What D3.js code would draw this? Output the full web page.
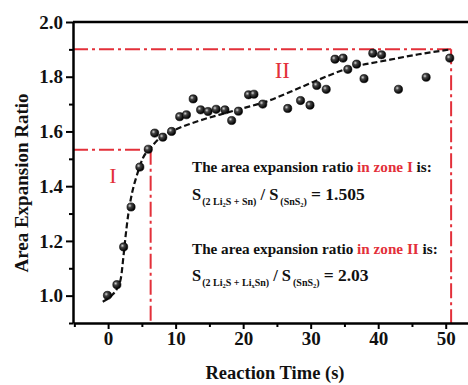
<!DOCTYPE html>
<html>
<head>
<meta charset="utf-8">
<script src="https://cdn.jsdelivr.net/npm/d3@7"></script>
<style>
  body { margin: 0; background: #fff; }
  svg { display: block; }
  text { font-family: "Liberation Serif", "Times New Roman", serif; }
</style>
</head>
<body>
<div id="chart"></div>
<script>
// measured points: reaction time (s) and area expansion ratio
const timeData = [-0.1, 1.3, 2.3, 3.4, 4.7, 5.95, 6.9, 8.1, 9.4, 10.6, 11.6, 12.6, 13.7, 14.8, 16.0, 17.3,
  18.3, 19.3, 20.8, 21.6, 22.9, 26.6, 28.5, 29.9, 30.9, 32.3, 33.6, 34.8, 35.5, 36.8, 37.9, 39.2, 40.5, 43.0, 47.1, 50.6];
const ratioData = [1.001, 1.04, 1.178, 1.324, 1.47, 1.535, 1.594, 1.579, 1.600, 1.654, 1.661, 1.719, 1.679, 1.673, 1.681, 1.679,
  1.640, 1.674, 1.734, 1.736, 1.700, 1.684, 1.713, 1.696, 1.768, 1.754, 1.864, 1.868, 1.827, 1.846, 1.793, 1.886, 1.880, 1.754, 1.798, 1.868];

// fitted curve (dashed)
const fitTime = [-0.8, 0.5, 1.3, 1.9, 2.3, 2.6, 3.0, 3.5, 4.2, 5.2, 6.3, 7.6, 10, 13.6, 17.5, 20, 23.4, 27, 30.3, 35.5, 41.7, 46, 50.8];
const fitRatio = [0.978, 1.0, 1.025, 1.065, 1.15, 1.22, 1.30, 1.37, 1.435, 1.505, 1.54, 1.575, 1.607, 1.64, 1.668, 1.685, 1.709, 1.745, 1.78, 1.83, 1.862, 1.882, 1.90];

// zone boundaries
const zoneTime = [6.3, 50.8];
const zoneRatio = [1.533, 1.90];
const zoneNames = ["I", "II"];
const zoneValues = ["1.505", "2.03"];

const xTicks = [0, 10, 20, 30, 40, 50];
const xMinor = [-5, 5, 15, 25, 35, 45];
const yTicks = [1.0, 1.2, 1.4, 1.6, 1.8, 2.0];
const yMinor = [0.9, 1.1, 1.3, 1.5, 1.7, 1.9];

const width = 468, height = 385;
const plotLeft = 73, plotRight = 468, plotTop = 22, plotBottom = 323;
const red = "#e3303a";

const svg = d3.select("#chart").append("svg")
  .attr("width", width)
  .attr("height", height);

const x = d3.scaleLinear().domain([-5.2, 53.3]).range([plotLeft, plotRight]);
const y = d3.scaleLinear().domain([0.9, 2.0]).range([plotBottom, plotTop]);

// sphere look for markers
const grad = svg.append("defs").append("radialGradient")
  .attr("id", "ball")
  .attr("cx", "35%").attr("cy", "35%").attr("r", "65%");
grad.append("stop").attr("offset", "0%").attr("stop-color", "#d8d8d8");
grad.append("stop").attr("offset", "35%").attr("stop-color", "#444");
grad.append("stop").attr("offset", "100%").attr("stop-color", "#000");

// red zone lines (dash-dot)
const dashDot = "15,4,3,4";
zoneTime.forEach((t, i) => {
  svg.append("line")
    .attr("x1", x.range()[0]).attr("x2", x(t))
    .attr("y1", y(zoneRatio[i])).attr("y2", y(zoneRatio[i]))
    .attr("stroke", red).attr("stroke-width", 2).attr("stroke-dasharray", dashDot);
  svg.append("line")
    .attr("x1", x(t)).attr("x2", x(t))
    .attr("y1", y(zoneRatio[i])).attr("y2", plotBottom)
    .attr("stroke", red).attr("stroke-width", 2).attr("stroke-dasharray", dashDot);
});

// zone labels
svg.append("text").attr("x", x(0.7)).attr("y", y(1.41))
  .attr("text-anchor", "middle").attr("fill", red).style("font-size", "22px")
  .text(zoneNames[0]);
svg.append("text").attr("x", x(25.8)).attr("y", y(1.795))
  .attr("text-anchor", "middle").attr("fill", red).style("font-size", "23px")
  .text(zoneNames[1]);

// fitted curve
const fitLine = d3.line()
  .x(d => x(d[0]))
  .y(d => y(d[1]))
  .curve(d3.curveMonotoneX);

svg.append("path")
  .datum(fitTime.map((t, i) => [t, fitRatio[i]]))
  .attr("d", fitLine)
  .attr("fill", "none")
  .attr("stroke", "#111")
  .attr("stroke-width", 2.2)
  .attr("stroke-dasharray", "6,3");

// data points
svg.selectAll(".pt")
  .data(timeData.map((t, i) => [t, ratioData[i]]))
  .enter()
  .append("circle")
  .attr("class", "pt")
  .attr("cx", d => x(d[0]))
  .attr("cy", d => y(d[1]))
  .attr("r", 4.1)
  .attr("fill", "url(#ball)")
  .attr("stroke", "#000")
  .attr("stroke-width", 0.6);

// axes
function styleAxis(g) {
  g.select(".domain").attr("stroke-width", 2.5);
  g.selectAll(".tick line").attr("stroke-width", 2);
  g.selectAll("text")
    .style("font-family", "'Liberation Serif', serif")
    .style("font-weight", "bold")
    .style("font-size", "19px")
    .attr("fill", "#111");
}

svg.append("g")
  .attr("transform", `translate(0,${plotBottom})`)
  .call(d3.axisBottom(x).tickValues(xMinor).tickSize(4).tickSizeOuter(0).tickFormat(""))
  .call(g => g.select(".domain").remove())
  .call(g => g.selectAll(".tick line").attr("stroke-width", 2));

svg.append("g")
  .attr("transform", `translate(0,${plotBottom})`)
  .call(d3.axisBottom(x).tickValues(xTicks).tickSize(6).tickSizeOuter(0).tickPadding(3).tickFormat(d3.format("d")))
  .call(styleAxis);

svg.append("g")
  .attr("transform", `translate(${plotLeft},0)`)
  .call(d3.axisLeft(y).tickValues(yMinor).tickSize(4).tickSizeOuter(0).tickFormat(""))
  .call(g => g.select(".domain").remove())
  .call(g => g.selectAll(".tick line").attr("stroke-width", 2));

svg.append("g")
  .attr("transform", `translate(${plotLeft},0)`)
  .call(d3.axisLeft(y).tickValues(yTicks).tickSize(7).tickSizeOuter(0).tickPadding(3).tickFormat(d3.format(".1f")))
  .call(styleAxis);

// top frame line
svg.append("line")
  .attr("x1", plotLeft).attr("x2", plotRight)
  .attr("y1", plotTop).attr("y2", plotTop)
  .attr("stroke", "#000").attr("stroke-width", 2.5);

// axis titles
svg.append("text")
  .attr("x", 275).attr("y", 379)
  .attr("text-anchor", "middle")
  .style("font-weight", "bold").style("font-size", "18.5px")
  .attr("fill", "#111")
  .text("Reaction Time (s)");

svg.append("text")
  .attr("transform", "rotate(-90)")
  .attr("x", -183).attr("y", 28)
  .attr("text-anchor", "middle")
  .style("font-weight", "bold").style("font-size", "19px")
  .attr("fill", "#111")
  .text("Area Expansion Ratio");

// annotations
function zoneLine(yPos, zone) {
  const t = svg.append("text").attr("x", 192).attr("y", yPos)
    .style("font-weight", "bold").style("font-size", "15.2px").attr("fill", "#111");
  t.append("tspan").text("The area expansion ratio ");
  t.append("tspan").attr("fill", red).text("in zone " + zone);
  t.append("tspan").text(" is:");
}

// subscript block; pieces: [text, smaller inner subscript?]
function subBlock(g, xPos, yPos, pieces) {
  const t = g.append("text").attr("x", xPos).attr("y", yPos + 5)
    .style("font-weight", "bold").style("font-size", "10px");
  let low = false;
  pieces.forEach(p => {
    const dy = p[1] ? (low ? 0 : 2) : (low ? -2 : 0);
    low = p[1];
    t.append("tspan").style("font-size", p[1] ? "6.5px" : "10px").attr("dy", dy).text(p[0]);
  });
  return xPos + t.node().getComputedTextLength();
}

function bigText(g, xPos, yPos, str, size) {
  const t = g.append("text").attr("x", xPos).attr("y", yPos)
    .style("font-weight", "bold").style("font-size", size).text(str);
  return xPos + t.node().getComputedTextLength();
}

function ratioLine(yPos, numPieces, value) {
  const g = svg.append("g").attr("fill", "#111");
  let cx = bigText(g, 192, yPos, "S", "16.5px");
  cx = subBlock(g, cx + 1, yPos, numPieces);
  cx = bigText(g, cx + 4, yPos, "/ S", "16.5px");
  cx = subBlock(g, cx + 2, yPos, [["(SnS", false], ["2", true], [")", false]]);
  bigText(g, cx + 4, yPos, "= " + value, "17.5px");
}

zoneLine(172, "I");
ratioLine(200, [["(2 Li", false], ["2", true], ["S + Sn)", false]], zoneValues[0]);

zoneLine(254, "II");
ratioLine(281, [["(2 Li", false], ["2", true], ["S + Li", false], ["x", true], ["Sn)", false]], zoneValues[1]);
</script>
</body>
</html>
